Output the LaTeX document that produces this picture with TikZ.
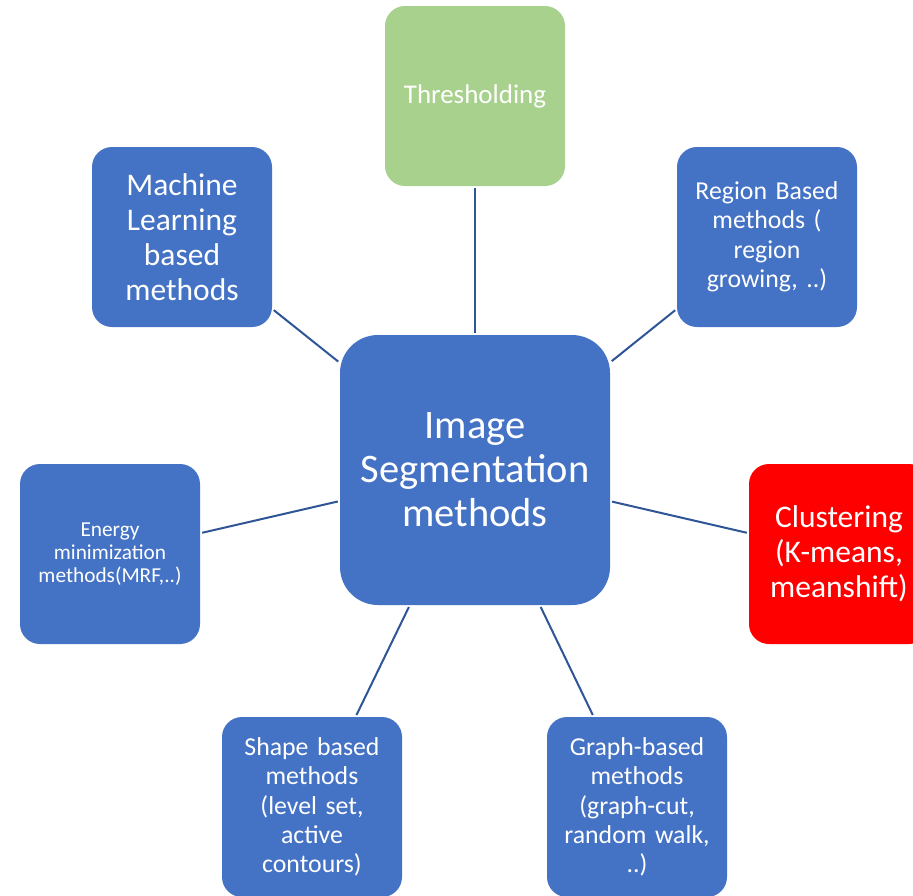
\documentclass[tikz,border=0pt]{standalone}
\usepackage{fontspec}
\setmainfont{Carlito}
\definecolor{boxblue}{HTML}{4472C4}
\definecolor{boxgreen}{HTML}{A9D18E}
\definecolor{boxred}{HTML}{FF0000}
\definecolor{linkblue}{HTML}{2F5597}
\tikzset{
  box/.style={rectangle, fill=boxblue, text=white, minimum width=180pt, minimum height=180pt,
    inner sep=0pt, rounded corners=20pt, align=center, text width=176pt},
  link/.style={draw=linkblue, line width=2pt, shorten <=2pt, shorten >=2pt}
}
\begin{document}
\begin{tikzpicture}[x=1pt,y=-1pt]
\clip (0,0) rectangle (913,895);
\fill[white] (0,0) rectangle (913,895);
\node[box, minimum width=270pt, minimum height=270pt, rounded corners=38pt, text width=266pt,
  font=\fontsize{40.5}{44}\selectfont] (c) at (475,470) {Image\\Segmentation\\methods};
\node[box, fill=boxgreen, font=\fontsize{27}{29}\selectfont] (thr) at (475,96) {Thresholding};
\node[box, font=\fontsize{31.5}{35}\selectfont] (ml) at (182,237) {Machine\\Learning\\based\\methods};
\node[box, font=\fontsize{25.8}{29.5}\selectfont] (reg) at (767,237) {Region Based\\methods (\\region\\growing, ..)};
\node[box, font=\fontsize{21.3}{23}\selectfont] (en) at (110,554) {Energy\\minimization\\methods(MRF,..)};
\node[box, fill=boxred, font=\fontsize{31.5}{35}\selectfont] (cl) at (839,554) {Clustering\\(K-means,\\meanshift)};
\node[box, font=\fontsize{25.8}{29.3}\selectfont] (sh) at (312,807) {Shape based\\methods\\(level set,\\active\\contours)};
\node[box, font=\fontsize{25.8}{29.3}\selectfont] (gr) at (637,807) {Graph-based\\methods\\(graph-cut,\\random walk,\\..)};
\draw[link] (thr) -- (c);
\draw[link] (ml) -- (c);
\draw[link] (reg) -- (c);
\draw[link] (en) -- (c);
\draw[link] (cl) -- (c);
\draw[link] (sh) -- (c);
\draw[link] (gr) -- (c);
\end{tikzpicture}
\end{document}
